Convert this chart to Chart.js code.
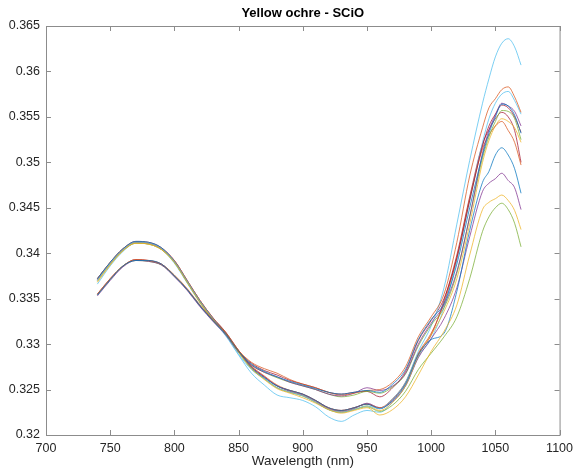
<!DOCTYPE html>
<html>
<head>
<meta charset="utf-8">
<script src="https://cdn.jsdelivr.net/npm/chart.js@4"></script>
<style>
  html, body { margin: 0; padding: 0; background: #fff; }
  #wrap { width: 579px; height: 469px; }
</style>
</head>
<body>
<div id="wrap"><canvas id="chart"></canvas></div>
<script>
// ── DATA ─────────────────────────────────────────────────────
const wavelength = [740,750,760,770,780,790,800,810,820,830,840,850,
  860,870,880,890,900,910,920,930,940,950,960,970,980,990,1000,
  1010,1020,1030,1040,1045,1050,1055,1060,1065,1070];

const s01 = [.3354,.3371,.3386,.3392,.3392,.3388,.3375,.3360,.3342,.3326,.3311,.3292,
  .3278,.3270,.3264,.3259,.3255,.3251,.3247,.3245,.3247,.3249,.3247,.3256,.3272,.3305,.3327,
  .3345,.3388,.3450,.3508,.3532,.3550,.3564,.3562,.3552,.3532];
const s02 = [.3355,.3372,.3386,.3393,.3392,.3388,.3376,.3361,.3343,.3327,.3312,.3293,
  .3280,.3273,.3268,.3261,.3256,.3252,.3247,.3244,.3246,.3249,.3250,.3258,.3275,.3308,.3330,
  .3355,.3412,.3485,.3538,.3560,.3570,.3580,.3583,.3572,.3555];
const s03 = [.3368,.3387,.3403,.3411,.3410,.3404,.3390,.3368,.3346,.3327,.3311,.3291,
  .3273,.3261,.3251,.3246,.3241,.3235,.3228,.3224,.3227,.3230,.3222,.3228,.3242,.3266,.3292,
  .3314,.3343,.3398,.3448,.3456,.3460,.3464,.3458,.3447,.3426];
const s04 = [.3353,.3370,.3385,.3392,.3391,.3387,.3374,.3359,.3341,.3325,.3310,.3291,
  .3277,.3269,.3264,.3258,.3254,.3250,.3245,.3243,.3246,.3252,.3249,.3254,.3268,.3300,.3323,
  .3343,.3380,.3440,.3510,.3535,.3552,.3565,.3562,.3556,.3540];
const s05 = [.3354,.3371,.3386,.3392,.3391,.3387,.3375,.3360,.3342,.3326,.3311,.3292,
  .3277,.3269,.3263,.3258,.3254,.3250,.3245,.3242,.3244,.3248,.3246,.3253,.3267,.3298,.3321,
  .3340,.3378,.3440,.3505,.3528,.3545,.3557,.3556,.3548,.3525];
const s06 = [.3370,.3389,.3404,.3412,.3411,.3405,.3391,.3369,.3347,.3328,.3310,.3289,
  .3272,.3262,.3252,.3247,.3243,.3236,.3228,.3225,.3228,.3232,.3229,.3240,.3258,.3292,.3320,
  .3362,.3432,.3502,.3565,.3592,.3616,.3631,.3636,.3627,.3607];
const s07 = [.3355,.3372,.3386,.3393,.3392,.3388,.3375,.3360,.3342,.3326,.3311,.3292,
  .3279,.3271,.3266,.3260,.3256,.3252,.3247,.3245,.3247,.3248,.3242,.3252,.3270,.3304,.3326,
  .3350,.3395,.3458,.3518,.3540,.3553,.3563,.3560,.3550,.3533];
const s08 = [.3372,.3390,.3405,.3413,.3412,.3406,.3391,.3369,.3347,.3328,.3312,.3292,
  .3274,.3263,.3254,.3249,.3245,.3238,.3230,.3227,.3230,.3234,.3229,.3238,.3256,.3288,.3305,
  .3312,.3358,.3425,.3478,.3490,.3508,.3516,.3508,.3493,.3466];
const s09 = [.3372,.3390,.3405,.3412,.3411,.3405,.3392,.3370,.3348,.3329,.3313,.3293,
  .3276,.3265,.3255,.3249,.3245,.3238,.3230,.3227,.3230,.3234,.3230,.3240,.3258,.3290,.3312,
  .3345,.3395,.3460,.3515,.3530,.3540,.3545,.3535,.3522,.3497];
const s10 = [.3369,.3388,.3403,.3411,.3410,.3404,.3390,.3368,.3346,.3327,.3311,.3291,
  .3274,.3262,.3252,.3247,.3243,.3236,.3228,.3225,.3228,.3232,.3227,.3236,.3254,.3287,.3310,
  .3336,.3372,.3432,.3500,.3524,.3540,.3548,.3545,.3538,.3522];
const s11 = [.3371,.3389,.3404,.3412,.3411,.3405,.3391,.3369,.3347,.3328,.3312,.3292,
  .3275,.3264,.3254,.3248,.3244,.3237,.3229,.3226,.3229,.3235,.3230,.3237,.3254,.3285,.3306,
  .3328,.3362,.3418,.3468,.3477,.3482,.3488,.3480,.3472,.3448];
const s12 = [.3370,.3388,.3403,.3411,.3410,.3404,.3390,.3368,.3346,.3327,.3311,.3291,
  .3273,.3262,.3252,.3247,.3243,.3236,.3228,.3225,.3228,.3231,.3226,.3233,.3248,.3272,.3290,
  .3308,.3330,.3372,.3424,.3440,.3450,.3455,.3448,.3433,.3407];
const s13 = [.3366,.3386,.3402,.3411,.3410,.3404,.3389,.3367,.3345,.3326,.3309,.3288,
  .3268,.3255,.3244,.3241,.3238,.3231,.3220,.3215,.3222,.3227,.3225,.3236,.3254,.3286,.3306,
  .3340,.3392,.3458,.3522,.3548,.3565,.3575,.3578,.3568,.3553];
const s14 = [.3372,.3390,.3405,.3413,.3412,.3406,.3392,.3370,.3348,.3329,.3313,.3293,
  .3275,.3264,.3254,.3249,.3245,.3238,.3230,.3227,.3230,.3234,.3229,.3239,.3257,.3289,.3310,
  .3348,.3398,.3462,.3520,.3536,.3548,.3555,.3550,.3535,.3500];

const allSeries = [s01,s02,s03,s04,s05,s06,s07,s08,s09,s10,s11,s12,s13,s14];

const xTicks = [700,750,800,850,900,950,1000,1050,1100];
const yTicks = [0.32,0.325,0.33,0.335,0.34,0.345,0.35,0.355,0.36,0.365];

// MATLAB default line order
const LINE_COLORS = ['#0072BD','#D95319','#EDB120','#7E2F8E','#77AC30','#4DBEEE','#A2142F'];

const TITLE = 'Yellow ochre - SCiO';
const XLABEL = 'Wavelength (nm)';

// ── AXES BOX + INWARD TICKS ──────────────────────────────────
const matlabBox = {
  id: 'matlabBox',
  afterDraw(chart) {
    const { ctx, chartArea: a, scales } = chart;
    ctx.save();
    ctx.strokeStyle = '#8c8c8c';
    ctx.lineWidth = 1;
    ctx.strokeRect(a.left + 0.5, a.top + 0.5, a.right - a.left, a.bottom - a.top);
    ctx.beginPath();
    xTicks.forEach(v => {
      const x = Math.round(scales.x.getPixelForValue(v)) + 0.5;
      ctx.moveTo(x, a.bottom); ctx.lineTo(x, a.bottom - 5);
      ctx.moveTo(x, a.top);    ctx.lineTo(x, a.top + 5);
    });
    yTicks.forEach(v => {
      const y = Math.round(scales.y.getPixelForValue(v)) + 0.5;
      ctx.moveTo(a.left, y);  ctx.lineTo(a.left + 5, y);
      ctx.moveTo(a.right, y); ctx.lineTo(a.right - 5, y);
    });
    ctx.stroke();
    // title
    ctx.fillStyle = '#000';
    ctx.font = "bold 13px 'Liberation Sans', Arial, sans-serif";
    ctx.textAlign = 'center';
    ctx.textBaseline = 'middle';
    ctx.fillText(TITLE, (a.left + a.right) / 2, 13);
    ctx.restore();
  }
};

// ── CHART ────────────────────────────────────────────────────
const FONT = { family: "'Liberation Sans', Arial, sans-serif", size: 12.5 };

new Chart(document.getElementById('chart'), {
  type: 'line',
  data: {
    labels: wavelength,
    datasets: allSeries.map((s, i) => ({
      data: s.map((v, j) => ({ x: wavelength[j], y: v })),
      borderColor: LINE_COLORS[i % LINE_COLORS.length] + 'bb',
      borderWidth: 1,
      pointRadius: 0,
      fill: false,
      cubicInterpolationMode: 'monotone',
    })),
  },
  options: {
    responsive: true,
    maintainAspectRatio: false,
    animation: false,
    events: [],
    layout: { padding: { top: 26, right: 14, left: 0, bottom: 0 } },
    plugins: { legend: { display: false }, tooltip: { enabled: false } },
    scales: {
      x: {
        type: 'linear', min: 700, max: 1100,
        afterBuildTicks: s => { s.ticks = xTicks.map(v => ({ value: v })); },
        afterFit: s => { s.height = 34; },
        grid: { display: false, drawTicks: false },
        border: { display: false },
        ticks: { color: '#262626', font: FONT, padding: 6, maxRotation: 0,
                 callback: v => String(v) },
        title: { display: true, text: XLABEL, color: '#262626',
                 font: { family: FONT.family, size: 13.5 },
                 padding: { top: 0, bottom: 0 } },
      },
      y: {
        min: 0.32, max: 0.365,
        afterBuildTicks: s => { s.ticks = yTicks.map(v => ({ value: v })); },
        afterFit: s => { s.width = 46; },
        grid: { display: false, drawTicks: false },
        border: { display: false },
        ticks: { color: '#262626', font: FONT, padding: 6,
                 callback: v => String(+v.toFixed(3)) },
      },
    },
  },
  plugins: [matlabBox],
});
</script>
</body>
</html>
